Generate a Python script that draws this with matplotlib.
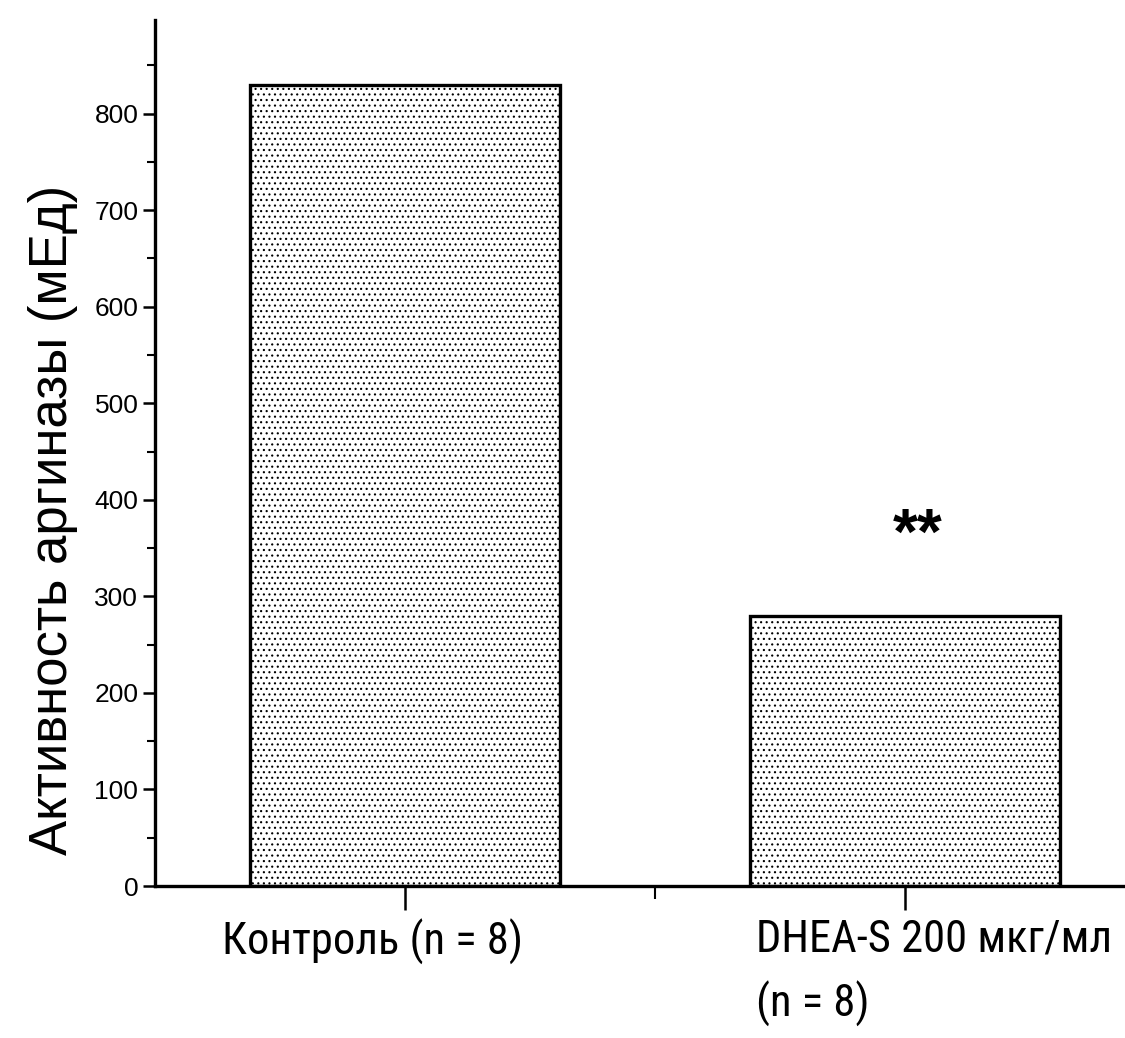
import matplotlib
matplotlib.use("Agg")
import matplotlib.pyplot as plt
from matplotlib.ticker import MultipleLocator
import numpy as np

groups = ["Контроль (n = 8)", "DHEA-S 200 мкг/мл\n(n = 8)"]
activity = [830, 280]
marks = ["", "**"]
ylabel = "Активность аргиназы (мЕд)"

narrow = ["Roboto Condensed", "Sofia Sans Condensed", "Liberation Sans", "DejaVu Sans"]
plt.rcParams["font.family"] = ["Liberation Sans", "DejaVu Sans"]
plt.rcParams["hatch.color"] = "#444444"
plt.rcParams["hatch.linewidth"] = 0.8

fig = plt.figure(figsize=(11.25, 10.38), dpi=100)
ax = fig.add_axes([0.1378, 0.1464, 0.8622, 0.8343])

pos = np.arange(1, len(groups) + 1)
width = 0.62
ax.bar(pos, activity, width=width, facecolor="white", edgecolor="black",
       linewidth=2.4, hatch="...", zorder=2)
for p, v, m in zip(pos, activity, marks):
    if m:
        ax.text(p + 0.025, v + 113, m, ha="center", va="top",
                fontsize=46, fontweight="bold")

ax.set_xlim(0.5, 2.44)
ax.set_ylim(0, 897)
ax.yaxis.set_major_locator(MultipleLocator(100))
ax.yaxis.set_minor_locator(MultipleLocator(50))
ax.set_xticks(pos)
ax.set_xticks([1.5], minor=True)
ax.set_xticklabels([""] * len(pos))

# group names hang under the bars, starting near the left bar edges
name_shift = [-0.366, -0.298]
xt = ax.get_xaxis_transform()
for p, g, dx in zip(pos, groups, name_shift):
    ax.text(p + dx, -0.038, g, transform=xt, ha="left", va="top",
            fontsize=32, family=narrow, linespacing=1.55, clip_on=False)

for lab in ax.get_yticklabels():
    lab.set_fontsize(19)

ax.tick_params(axis="y", which="major", direction="out", length=9, width=1.8, pad=3)
ax.tick_params(axis="y", which="minor", direction="out", length=6, width=1.5)
ax.tick_params(axis="x", which="major", direction="out", length=17, width=1.8)
ax.tick_params(axis="x", which="minor", direction="out", length=9, width=1.5)

for side in ("top", "right"):
    ax.spines[side].set_visible(False)
for side in ("left", "bottom"):
    ax.spines[side].set_linewidth(2.4)

ax.set_ylabel(ylabel, fontsize=38)
ax.yaxis.set_label_coords(-0.079, 0.423)

fig.savefig("out.png", dpi=100, facecolor="white")
